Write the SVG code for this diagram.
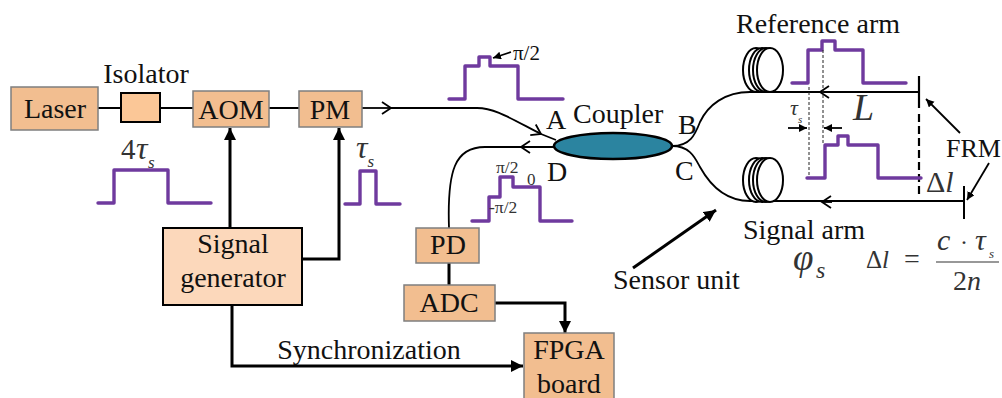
<svg xmlns="http://www.w3.org/2000/svg" width="1002" height="398" viewBox="0 0 1002 398">
<style>
text{font-family:"Liberation Serif","Times New Roman",serif;fill:#111;font-size:28px}
.m{text-anchor:middle}
.box{fill:#f2be90;stroke:#7f7f7f;stroke-width:1.5}
.blk{stroke:#000;stroke-width:2}
.thin{fill:none;stroke:#000;stroke-width:1.8}
.thick{fill:none;stroke:#000;stroke-width:3}
.pulse{fill:none;stroke:#6f3a9e;stroke-width:3.4;stroke-linecap:round;stroke-linejoin:round}
.dash{fill:none;stroke:#222;stroke-width:1;stroke-dasharray:3 2}
.coil{fill:#fff;stroke:#000;stroke-width:2}
.gray{fill:#333}
.i{font-style:italic}
</style>
<defs>
<marker id="big" markerUnits="userSpaceOnUse" markerWidth="14" markerHeight="14" refX="12" refY="6" orient="auto"><path d="M0 0L12 6L0 12z" fill="#000"/></marker>
<marker id="small" markerUnits="userSpaceOnUse" markerWidth="10" markerHeight="10" refX="8" refY="4" orient="auto"><path d="M0 0L8 4L0 8z" fill="#000"/></marker>
<marker id="open" markerUnits="userSpaceOnUse" markerWidth="14" markerHeight="16" refX="10" refY="7" orient="auto"><path d="M1 1L10 7L1 13" fill="none" stroke="#000" stroke-width="1.8"/></marker>
</defs>

<g id="connectors">
<path class="thin" d="M98 108H121M160 108H193M269 108H299"/>
<path class="thin" d="M362 108H391" marker-end="url(#open)"/>
<path class="thin" d="M391 108H477C495 108 510 118 541 134" marker-end="url(#open)"/>
<path class="thin" d="M541 134L556 140"/>
<path class="thin" d="M554 147H521" marker-end="url(#open)"/>
<path class="thin" d="M521 147H485C455 147 447 170 449 228"/>
<path class="thin" d="M672 146C690 146 695 135 700 122C708 105 725 92 750 92H919"/>
<path class="thin" d="M672 146C690 146 695 158 700 167C710 185 725 201 750 201H963"/>
<path class="thin" d="M830 92H820" marker-end="url(#open)"/>
<path class="thin" d="M832 202H822" marker-end="url(#open)"/>
<path class="thick" d="M449 263V285"/>
<path class="thick" d="M230 228V128" marker-end="url(#big)"/>
<path class="thick" d="M302 259H339V128" marker-end="url(#big)"/>
<path class="thick" d="M232 305V366H523" marker-end="url(#big)"/>
<path class="thick" d="M495 303H565V333" marker-end="url(#big)"/>
<path class="thick" d="M633 268L716 210" marker-end="url(#big)"/>
<path class="thin" d="M511 52L493 58" marker-end="url(#small)"/>
<path class="thin" d="M960 133L926 99" marker-end="url(#small)"/>
<path class="thin" d="M989 163L967 200" marker-end="url(#small)"/>
<path class="thin" d="M788 128H807" marker-end="url(#small)" stroke-width="1.2"/>
<path class="thin" d="M842 128H824" marker-end="url(#small)" stroke-width="1.2"/>
</g>

<g id="laser"><rect class="box" x="11" y="87" width="87" height="43"/><text class="m" x="55" y="118">Laser</text></g>
<g id="isolator"><rect x="121" y="93" width="39" height="29" fill="#fbc797" class="blk"/><text class="m" x="146" y="83">Isolator</text></g>
<g id="aom"><rect class="box" x="193" y="91" width="76" height="36"/><text class="m" x="231" y="119">AOM</text></g>
<g id="pm"><rect class="box" x="299" y="91" width="63" height="36"/><text class="m" x="330" y="119">PM</text></g>
<g id="signal-generator"><rect x="163" y="228" width="139" height="77" fill="#fcd8bb" class="blk"/><text class="m" x="233" y="253">Signal</text><text class="m" x="233" y="287">generator</text></g>
<g id="pd"><rect class="box" x="416" y="228" width="63" height="35"/><text class="m" x="448" y="254">PD</text></g>
<g id="adc"><rect class="box" x="404" y="285" width="91" height="36"/><text class="m" x="449" y="312">ADC</text></g>
<g id="fpga"><rect class="box" x="524" y="333" width="90" height="66"/><text class="m" x="569" y="359">FPGA</text><text class="m" x="569" y="393">board</text></g>
<g id="coupler"><ellipse cx="613" cy="146" rx="59" ry="13" fill="#2b84a0" stroke="#000" stroke-width="2.6"/><text x="573" y="123">Coupler</text><text x="546" y="129">A</text><text x="678" y="134">B</text><text x="675" y="180">C</text><text x="547" y="181">D</text></g>
<g id="reference-coil"><ellipse class="coil" cx="756" cy="70" rx="13" ry="22"/><ellipse class="coil" cx="762" cy="70" rx="13" ry="22"/><ellipse class="coil" cx="766" cy="70" rx="13" ry="22"/><ellipse class="coil" cx="770" cy="70" rx="13" ry="22"/><text x="736" y="33">Reference arm</text></g>
<g id="signal-coil"><ellipse class="coil" cx="756" cy="180" rx="13" ry="22"/><ellipse class="coil" cx="762" cy="180" rx="13" ry="22"/><ellipse class="coil" cx="766" cy="180" rx="13" ry="22"/><ellipse class="coil" cx="770" cy="180" rx="13" ry="22"/><text x="743" y="239">Signal arm</text></g>
<g id="frm"><path d="M919 76V108" stroke="#000" stroke-width="2.2" fill="none"/><path d="M919 114V197" stroke="#000" stroke-width="2.2" stroke-dasharray="8 4" fill="none"/><path d="M964 186V219" stroke="#000" stroke-width="2" fill="none"/><text x="946" y="157" style="font-size:26px">FRM</text></g>

<g id="waveforms">
<path class="pulse" d="M98 203H114V170H168V203H211"/>
<path class="pulse" d="M345 204H360V171H376V204H400"/>
<path class="pulse" d="M449 99H465V66H479V57H490V66H518V99H563"/>
<path class="pulse" d="M472 221H489V197H500V177H513V187H540V221H572"/>
<path class="pulse" d="M792 83H808V50H822V41H835V50H863V83H906"/>
<path class="pulse" d="M807 178H825V145H838V136H848V145H878V178H921"/>
<path class="dash" d="M809 87V177M823 50V143"/>
</g>

<g id="labels">
<text class="gray" x="121" y="159" style="font-size:29px">4<tspan class="i" x="136" style="font-size:32px">τ</tspan><tspan class="i" x="148" dy="9" style="font-size:17px">s</tspan></text>
<text class="gray i" x="356" y="158" style="font-size:32px">τ<tspan dy="9" style="font-size:17px">s</tspan></text>
<text x="513" y="60" style="font-size:21px">π/2</text>
<text class="gray" x="496" y="173" style="font-size:17.5px">π/2</text>
<text class="gray" x="527" y="185" style="font-size:17px">0</text>
<text class="gray" x="489" y="213" style="font-size:17.5px">-π/2</text>
<text class="gray i" x="790" y="115" style="font-size:22px">τ<tspan x="798" dy="8" style="font-size:11px">s</tspan></text>
<text class="gray i" x="853" y="120" style="font-size:38px">L</text>
<text class="gray" x="926" y="192" style="font-size:30px">Δ<tspan class="i">l</tspan></text>
<text x="369" y="359" class="m">Synchronization</text>
<text x="613" y="289">Sensor unit</text>
<text class="gray i" x="793" y="270" style="font-size:37px">φ<tspan x="816" dy="8" style="font-size:24px">s</tspan></text>
<text class="gray" x="866" y="268" style="font-size:25px">Δ<tspan class="i">l</tspan></text>
<text class="gray" x="904" y="268" style="font-size:28px">=</text>
<text class="gray i" x="937" y="250" style="font-size:30px">c<tspan class="gray" x="960" style="font-size:24px;font-style:normal">·</tspan><tspan x="975" style="font-size:30px">τ</tspan><tspan x="989" dy="8" style="font-size:13px">s</tspan></text>
<path d="M936 262H999" stroke="#333" stroke-width="1.2" fill="none"/>
<text class="gray" x="953" y="290" style="font-size:28px">2<tspan class="i">n</tspan></text>
</g>
</svg>
